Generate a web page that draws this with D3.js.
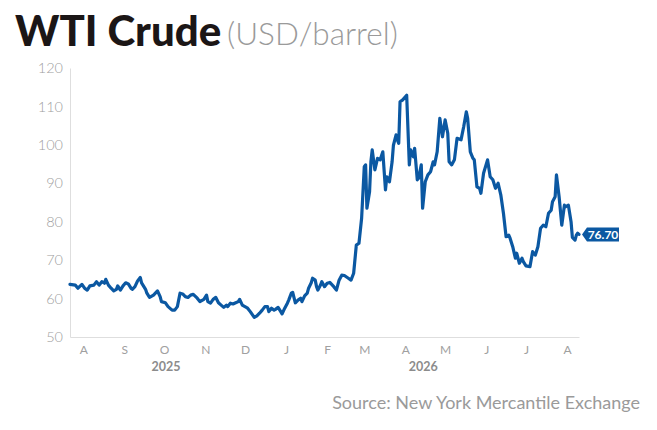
<!DOCTYPE html>
<html>
<head>
<meta charset="utf-8">
<script src="https://cdn.jsdelivr.net/npm/d3@7"></script>
<style>
  body { margin: 0; background: #fff; }
  svg { display: block; }
  .tick text { fill: #a0a0a0; }
</style>
</head>
<body>
<svg width="657" height="430"></svg>
<script>
"use strict";

// WTI price readings (USD/barrel), date by date
const dates = [
  "2025-08-05","2025-08-09","2025-08-11","2025-08-14","2025-08-16","2025-08-18","2025-08-20","2025-08-23",
  "2025-08-25","2025-08-27","2025-08-29","2025-08-31","2025-09-01","2025-09-03","2025-09-05","2025-09-07",
  "2025-09-09","2025-09-10","2025-09-12","2025-09-14","2025-09-16","2025-09-18","2025-09-20","2025-09-21",
  "2025-09-23","2025-09-25","2025-09-27","2025-09-28","2025-10-01","2025-10-02","2025-10-04","2025-10-07",
  "2025-10-10","2025-10-12","2025-10-13","2025-10-16","2025-10-18","2025-10-21","2025-10-23","2025-10-25",
  "2025-10-27","2025-10-29","2025-10-31","2025-11-02","2025-11-04","2025-11-06","2025-11-09","2025-11-11",
  "2025-11-14","2025-11-16","2025-11-17","2025-11-19","2025-11-21","2025-11-23","2025-11-25","2025-11-27",
  "2025-11-29","2025-12-01","2025-12-02","2025-12-04","2025-12-06","2025-12-08","2025-12-10","2025-12-11",
  "2025-12-13","2025-12-15","2025-12-17","2025-12-19","2025-12-22","2025-12-24","2025-12-26","2025-12-28",
  "2025-12-30","2026-01-01","2026-01-02","2026-01-04","2026-01-06","2026-01-07","2026-01-09","2026-01-11",
  "2026-01-12","2026-01-14","2026-01-16","2026-01-17","2026-01-19","2026-01-20","2026-01-22","2026-01-24",
  "2026-01-26","2026-01-27","2026-01-29","2026-01-31","2026-02-01","2026-02-03","2026-02-04","2026-02-06",
  "2026-02-07","2026-02-08","2026-02-10","2026-02-11","2026-02-13","2026-02-15","2026-02-17","2026-02-20",
  "2026-02-22","2026-02-24","2026-02-26","2026-02-28","2026-03-03","2026-03-05","2026-03-07","2026-03-09",
  "2026-03-11","2026-03-13","2026-03-15","2026-03-16","2026-03-17","2026-03-19","2026-03-20","2026-03-21",
  "2026-03-23","2026-03-25","2026-03-27","2026-03-29","2026-03-31","2026-04-01","2026-04-03","2026-04-05",
  "2026-04-06","2026-04-08","2026-04-09","2026-04-10","2026-04-11","2026-04-13","2026-04-15","2026-04-16",
  "2026-04-18","2026-04-19","2026-04-21","2026-04-22","2026-04-24","2026-04-25","2026-04-27","2026-04-28",
  "2026-04-30","2026-05-02","2026-05-04","2026-05-06","2026-05-07","2026-05-09","2026-05-11","2026-05-13",
  "2026-05-15","2026-05-17","2026-05-18","2026-05-20","2026-05-22","2026-05-24","2026-05-27","2026-05-29",
  "2026-05-31","2026-06-01","2026-06-03","2026-06-05","2026-06-06","2026-06-08","2026-06-10","2026-06-11",
  "2026-06-13","2026-06-16","2026-06-18","2026-06-20","2026-06-22","2026-06-24","2026-06-26","2026-06-28",
  "2026-06-30","2026-07-02","2026-07-03","2026-07-05","2026-07-07","2026-07-08","2026-07-10","2026-07-12",
  "2026-07-13","2026-07-15","2026-07-18","2026-07-20","2026-07-22","2026-07-24","2026-07-26","2026-07-28",
  "2026-07-30","2026-08-01","2026-08-03","2026-08-04","2026-08-06","2026-08-07","2026-08-09","2026-08-11",
  "2026-08-13","2026-08-14","2026-08-16","2026-08-18","2026-08-19","2026-08-21","2026-08-22","2026-08-23",
  "2026-08-24"
];
const prices = [
  63.7, 63.5, 62.7, 63.7, 62.7, 62.2, 63.3, 63.5,
  64.4, 63.5, 64.4, 64.0, 65.0, 63.5, 62.7, 62.0,
  62.4, 63.3, 62.2, 63.3, 64.1, 63.8, 62.7, 62.4,
  63.1, 64.6, 65.5, 64.1, 62.4, 61.4, 60.3, 60.9,
  62.0, 60.5, 59.2, 58.9, 57.9, 57.0, 57.0, 57.9,
  61.4, 61.2, 60.5, 60.3, 60.9, 61.1, 60.1, 59.2,
  59.8, 60.9, 59.2, 58.8, 59.8, 60.3, 58.9, 58.3,
  57.7, 58.3, 57.9, 58.8, 58.6, 58.9, 59.2, 59.8,
  58.3, 57.9, 57.5, 56.6, 55.1, 55.5, 56.2, 57.0,
  57.9, 57.9, 56.6, 57.5, 57.0, 57.2, 57.7, 56.6,
  56.0, 57.5, 58.8, 59.6, 61.4, 61.6, 58.9, 59.6,
  60.1, 59.2, 60.7, 61.4, 62.7, 64.1, 65.3, 64.8,
  63.1, 62.2, 63.5, 64.4, 63.1, 64.0, 64.2, 63.1,
  62.2, 64.8, 66.1, 66.0, 65.3, 64.8, 66.6, 73.9,
  74.4, 80.9, 94.3, 94.8, 83.5, 87.8, 95.6, 98.7,
  93.5, 96.5, 96.1, 98.2, 88.3, 91.7, 90.4, 95.6,
  99.9, 102.6, 101.3, 100.4, 111.2, 111.7, 112.5, 112.9,
  94.8, 98.7, 96.9, 99.1, 90.9, 91.3, 94.8, 83.5,
  90.4, 92.2, 93.0, 95.6, 94.8, 98.2, 106.9, 102.1,
  106.5, 103.0, 95.6, 94.8, 96.1, 101.7, 101.3, 104.7,
  108.6, 106.9, 98.2, 96.5, 96.1, 89.1, 88.7, 87.4,
  92.6, 96.1, 91.7, 90.9, 88.7, 90.0, 87.0, 82.2,
  76.1, 76.5, 75.7, 73.5, 70.5, 71.8, 69.2, 70.5,
  69.6, 68.5, 68.3, 72.2, 71.3, 73.5, 78.3, 79.1,
  78.7, 82.2, 83.0, 85.2, 86.5, 92.2, 86.5, 79.1,
  84.3, 83.9, 84.3, 80.0, 75.9, 75.2, 76.5, 77.0,
  76.7
];
const yTicks = [50, 60, 70, 80, 90, 100, 110, 120];
const monthTicks = [
  "2025-08-15","2025-09-15","2025-10-15","2025-11-15","2025-12-15","2026-01-15","2026-02-15",
  "2026-03-15","2026-04-15","2026-05-15","2026-06-15","2026-07-15","2026-08-15"
];
const years = [
  { label: "2025", from: "2025-08-01", to: "2026-01-01" },
  { label: "2026", from: "2026-01-01", to: "2026-08-24" }
];
const lastLabel = "76.70";

const parse = d3.timeParse("%Y-%m-%d");
const data = dates.map((d, i) => ({ date: parse(d), value: prices[i] }));

const blue = "#0b58a2";
const svg = d3.select("svg");

const x = d3.scaleTime()
    .domain([data[0].date, data[data.length - 1].date])
    .range([70, 579]);
const y = d3.scaleLinear()
    .domain([50, 120])
    .range([337, 68]);

// title
svg.append("text")
    .attr("x", 15)
    .attr("y", 46)
    .style("font-family", "Lato, 'Noto Sans', sans-serif")
    .style("font-size", "42px")
    .style("font-weight", 900)
    .style("fill", "#1b1616")
    .text("WTI Crude");
svg.append("text")
    .attr("x", 227)
    .attr("y", 45)
    .style("font-family", "Lato, 'Noto Sans', sans-serif")
    .style("font-size", "31.5px")
    .style("font-weight", 300)
    .style("fill", "#9a9a9a")
    .text("(USD/barrel)");

// y axis
svg.append("g")
    .attr("transform", "translate(70,0)")
    .call(d3.axisLeft(y).tickValues(yTicks).tickSize(0).tickPadding(7))
    .call(g => g.select(".domain").attr("stroke", "#dedede"))
    .selectAll("text")
    .style("font-family", "Lato, sans-serif")
    .style("font-weight", 300)
    .style("font-size", "14.5px");

// x axis
svg.append("g")
    .attr("transform", "translate(0,337)")
    .call(d3.axisBottom(x)
        .tickValues(monthTicks.map(parse))
        .tickFormat(d => d3.timeFormat("%B")(d)[0])
        .tickSize(0)
        .tickPadding(8))
    .call(g => g.select(".domain").attr("stroke", "#dedede"))
    .selectAll("text")
    .style("font-family", "Lato, sans-serif")
    .style("font-weight", 400)
    .style("font-size", "12px");

svg.append("g")
    .selectAll("text")
    .data(years)
    .join("text")
    .attr("x", d => (x(parse(d.from)) + x(parse(d.to))) / 2)
    .attr("y", 371)
    .attr("text-anchor", "middle")
    .style("font-family", "Lato, sans-serif")
    .style("font-weight", 700)
    .style("font-size", "12.5px")
    .style("fill", "#8c8c8c")
    .text(d => d.label);

// price line
const line = d3.line()
    .x(d => x(d.date))
    .y(d => y(d.value));

svg.append("path")
    .datum(data)
    .attr("d", line)
    .attr("fill", "none")
    .attr("stroke", blue)
    .attr("stroke-width", 3.2)
    .attr("stroke-linejoin", "round")
    .attr("stroke-linecap", "round");

// last value tag
const last = data[data.length - 1];
const lx = x(last.date) + 3, ly = y(last.value);
const tag = svg.append("g").attr("transform", `translate(${lx},${ly})`);
tag.append("path")
    .attr("d", "M0,0 L5,-7 L37,-7 L37,7 L5,7 Z")
    .attr("fill", blue);
tag.append("text")
    .attr("x", 21)
    .attr("y", 4.5)
    .attr("text-anchor", "middle")
    .style("font-family", "Lato, sans-serif")
    .style("font-weight", 700)
    .style("font-size", "12px")
    .style("fill", "#fff")
    .text(lastLabel);

// source
svg.append("text")
    .attr("x", 640)
    .attr("y", 409)
    .attr("text-anchor", "end")
    .style("font-family", "Lato, sans-serif")
    .style("font-weight", 400)
    .style("font-size", "18px")
    .style("fill", "#9a9a9a")
    .text("Source: New York Mercantile Exchange");
</script>
</body>
</html>
